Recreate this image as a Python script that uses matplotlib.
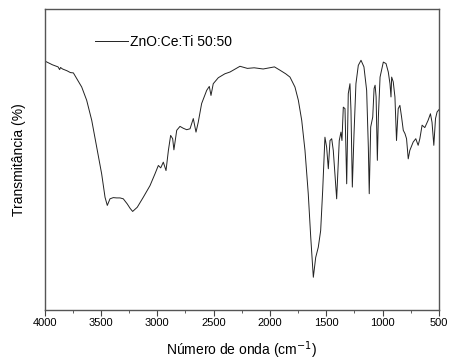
import matplotlib
matplotlib.use("Agg")
import matplotlib.pyplot as plt
from matplotlib.ticker import MultipleLocator

wavenumber = [4000, 3930, 3880, 3866, 3858, 3840, 3800, 3770, 3744, 3714, 3670, 3626, 3581, 3537,
              3493, 3463, 3443, 3419, 3390, 3360, 3330, 3301, 3266, 3240, 3218, 3177, 3124, 3064,
              3020, 2990, 2969, 2946, 2922, 2901, 2881, 2863, 2852, 2827, 2798, 2770, 2739, 2709,
              2680, 2656, 2636, 2606, 2561, 2538, 2523, 2503, 2458, 2400, 2354, 2266, 2200, 2140,
              2060, 2000, 1960, 1911, 1860, 1822, 1778, 1748, 1718, 1689, 1660, 1638, 1615, 1594,
              1571, 1550, 1532, 1512, 1497, 1482, 1467, 1452, 1438, 1408, 1385, 1370, 1361, 1349,
              1334, 1319, 1305, 1290, 1281, 1269, 1254, 1237, 1216, 1192, 1166, 1142, 1127, 1119,
              1106, 1088, 1076, 1067, 1058, 1047, 1038, 1023, 994, 970, 950, 935, 926, 920, 906,
              891, 877, 862, 847, 832, 817, 802, 788, 773, 759, 729, 706, 685, 670, 650, 626, 597,
              576, 562, 546, 531, 517, 500]
transmittance = [82.9, 81.6, 80.9, 80.0, 80.7, 80.2, 79.6, 79.0, 78.9, 77.0, 74.2, 69.8, 63.1, 54.2,
                 45.3, 37.5, 34.8, 37.0, 37.4, 37.3, 37.3, 37.0, 35.3, 33.8, 32.8, 34.2, 37.5, 41.4,
                 45.3, 48.1, 47.3, 49.2, 46.4, 53.1, 58.1, 57.0, 53.3, 59.8, 61.1, 60.5, 60.0, 60.3,
                 63.7, 59.2, 62.5, 68.7, 73.1, 74.4, 71.4, 75.3, 77.3, 78.6, 79.2, 81.1, 80.4, 80.6,
                 80.2, 80.6, 80.9, 79.8, 78.6, 77.5, 74.2, 69.8, 63.1, 53.1, 38.7, 24.2, 10.9, 17.5,
                 20.9, 26.4, 39.8, 57.5, 54.2, 47.0, 56.4, 57.0, 53.1, 37.0, 56.4, 59.2, 56.4, 67.5,
                 67.0, 42.0, 72.0, 75.3, 66.4, 40.9, 58.7, 75.3, 81.4, 83.1, 80.9, 73.1, 54.2, 38.7,
                 60.9, 64.2, 73.7, 74.8, 70.9, 49.8, 64.2, 77.5, 82.5, 82.0, 79.2, 75.3, 70.9, 77.5,
                 75.9, 70.9, 56.4, 67.0, 68.1, 64.2, 59.8, 58.7, 57.0, 50.3, 53.1, 55.9, 57.0, 54.8,
                 57.0, 61.5, 60.7, 63.1, 65.3, 62.5, 54.8, 63.7, 65.9, 66.7]
series_label = "ZnO:Ce:Ti 50:50"
xticks = [4000, 3500, 3000, 2500, 2000, 1500, 1000, 500]

plt.rcParams['font.family'] = ['Liberation Sans', 'DejaVu Sans']

fig = plt.figure(figsize=(4.51, 3.62), dpi=100)
ax = fig.add_axes([0.0987, 0.1436, 0.8747, 0.8302])
ax.plot(wavenumber, transmittance, color="#222222", lw=0.7, label=series_label)
ax.set_xlim(4000, 500)
ax.set_ylim(0, 100)
ax.set_xticks(xticks)
ax.xaxis.set_minor_locator(MultipleLocator(250))
ax.set_yticks([])
ax.tick_params(axis='x', which='major', direction='out', length=4, width=0.8,
               labelsize=8, color='#444444', pad=2)
ax.tick_params(axis='x', which='minor', direction='out', length=2, width=0.6, color='#444444')
for s in ax.spines.values():
    s.set_color('#555555')
    s.set_linewidth(1.0)
ax.set_xlabel("Número de onda (cm$^{-1}$)", fontsize=10, labelpad=8)
ax.set_ylabel("Transmitância (%)", fontsize=10, labelpad=13)
ax.legend(loc='center left', bbox_to_anchor=(0.128, 0.892), frameon=False, fontsize=10,
          handlelength=2.4, handletextpad=0.15, borderpad=0, borderaxespad=0)
fig.savefig("out.png", dpi=100)
